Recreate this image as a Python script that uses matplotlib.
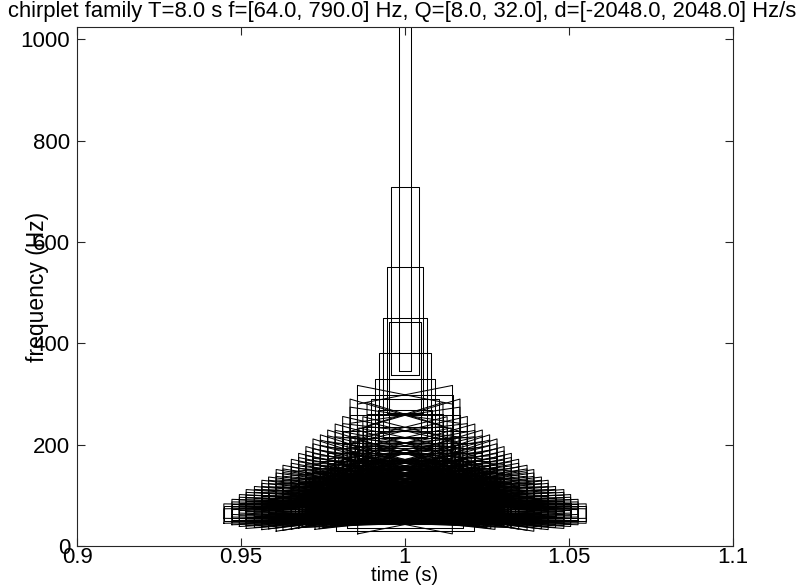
import numpy as np
import matplotlib
matplotlib.use("Agg")
from matplotlib import pyplot as plt

# chirplet family parameters (from the title)
T = 8.0
f_range = [64.0, 790.0]
q_range = [8.0, 32.0]
d_range = [-2048.0, 2048.0]
t_center = 1.0

# quality factors and centre frequencies of the drawn tiles
Q_values = [8.0, 12.7, 20.2]
freqs_q8 = [790, 283, 172, 124, 97, 79, 67]
freqs_q12 = [523, 406, 332, 281, 243, 214, 192, 173, 158, 146, 135, 126, 117,
             110, 104, 98, 93, 89, 85, 81, 77, 74, 71, 69, 66]
freqs_q20 = [244, 211, 186, 166, 150, 137, 126, 117, 109, 102, 95, 90, 85,
             81, 77, 73, 70, 67, 64]
freq_lists = [freqs_q8, freqs_q12, freqs_q20]

k_dur = 0.35      # duration = k_dur*Q/f
k_bw = 4.5        # half bandwidth = k_bw*f/Q
c_chirp = 1.07    # chirp step = c_chirp/dur^2
a_chirp = 36.0    # largest chirp grows with f above ~60 Hz

fig = plt.figure(figsize=(8.04, 5.88), dpi=100)
ax = fig.add_axes([77/804, 42/588, 656/804, 519/588])

for Q, freqs in zip(Q_values, freq_lists):
    for f in freqs:
        dt = k_dur*Q/f
        hb = k_bw*f/Q
        dd = c_chirp/dt**2
        dmax = min(d_range[1], a_chirp*(f-60))
        n = int(max(dmax, 0)//dd)
        for i in range(-n, n+1):
            d = i*dd
            tl, tr = t_center-dt/2, t_center+dt/2
            fl, fr = f-d*dt/2, f+d*dt/2
            ax.plot([tl, tr, tr, tl, tl],
                    [fl-hb, fr-hb, fr+hb, fl+hb, fl-hb],
                    color='k', lw=0.75)

ax.set_xlim(0.9, 1.1)
ax.set_ylim(0, 1024)
ax.set_xticks([0.9, 0.95, 1.0, 1.05, 1.1])
ax.set_xticklabels(['0.9', '0.95', '1', '1.05', '1.1'])
ax.set_yticks([0, 200, 400, 600, 800, 1000])
ax.tick_params(direction='in', top=True, right=True, length=6, width=0.8,
               labelsize=16, pad=1, color='0.15')
ax.tick_params(axis='y', pad=5)
for s in ax.spines.values():
    s.set_color('0.15')
    s.set_linewidth(0.8)
for lab in ax.get_xticklabels() + ax.get_yticklabels():
    lab.set_family('Liberation Sans')

ax.set_xlabel('time (s)', fontsize=14.5, family='Liberation Sans')
ax.set_ylabel('frequency (Hz)', fontsize=16.5, family='Liberation Sans')
ax.xaxis.set_label_coords(0.5, -0.038)
ax.yaxis.set_label_coords(-0.042, 0.5)

title = (f"chirplet family T={T:.1f} s f=[{f_range[0]:.1f}, {f_range[1]:.1f}] Hz, "
         f"Q=[{q_range[0]:.1f}, {q_range[1]:.1f}], d=[{d_range[0]:.1f}, {d_range[1]:.1f}] Hz/s")
fig.text(0.5, 1-12/588, title, ha='center', va='center', fontsize=15.8,
         family='Liberation Sans')

fig.savefig('out.png', dpi=100)
